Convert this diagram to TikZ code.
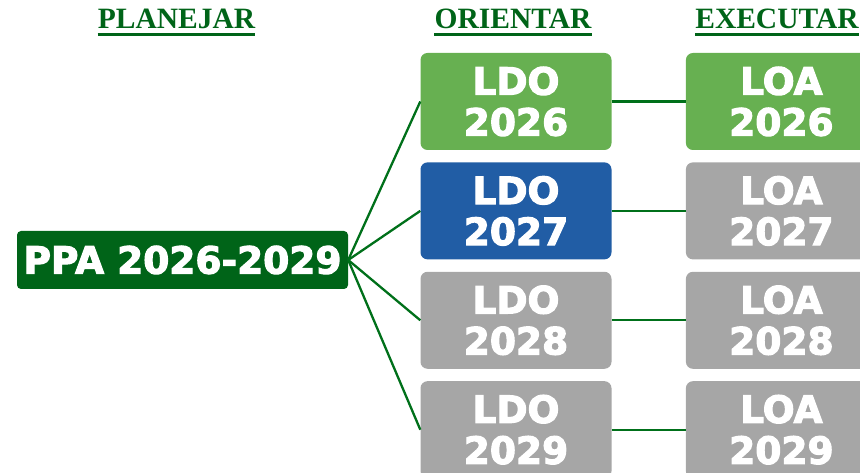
\documentclass[tikz,border=0pt]{standalone}
\usepackage{fontspec}
\newfontfamily\boxfont{DejaVu Sans Bold}[FakeBold=3]
\newfontfamily\headfont{Liberation Serif}
\usetikzlibrary{positioning}
\definecolor{darkgreen}{HTML}{006418}
\definecolor{linegreen}{HTML}{00701A}
\definecolor{lightgreen}{HTML}{67B051}
\definecolor{ldoblue}{HTML}{215DA5}
\definecolor{boxgray}{HTML}{A6A6A6}
\begin{document}
\begin{tikzpicture}[x=1pt, y=1pt,
    box/.style = {rounded corners=7pt, text=white, inner sep=0pt, align=center,
        font=\boxfont\fontsize{37.5}{41}\selectfont,
        minimum width=191pt, minimum height=97pt},
    head/.style = {text=darkgreen, inner sep=0pt, anchor=base,
        font=\headfont\bfseries\fontsize{29.5}{32}\selectfont},
    link/.style = {draw=linegreen, line width=2.3pt}]
            \clip (0,0) rectangle (860,473);
            \node[head] (plan) at (176.5,444) {PLANEJAR};
            \node[head] (orie) at (513,444) {ORIENTAR};
            \node[head] (exec) at (777,444) {EXECUTAR};
            \draw[darkgreen, line width=2.5pt] ([yshift=-5.5pt]plan.base west) -- ([yshift=-5.5pt]plan.base east);
            \draw[darkgreen, line width=2.5pt] ([yshift=-5.5pt]orie.base west) -- ([yshift=-5.5pt]orie.base east);
            \draw[darkgreen, line width=2.5pt] ([yshift=-5.5pt]exec.base west) -- ([yshift=-5.5pt]exec.base east);
            \node[box, fill=darkgreen, minimum width=331pt, minimum height=58pt, rounded corners=4pt] (ppa) at (182.5,213) {PPA 2026-2029};
            \node[box, fill=lightgreen] (ldo26) at (516,371.5) {LDO\\2026};
            \node[box, fill=ldoblue] (ldo27) [below=12pt of ldo26] {LDO\\2027};
            \node[box, fill=boxgray] (ldo28) [below=12pt of ldo27] {LDO\\2028};
            \node[box, fill=boxgray] (ldo29) [below=12pt of ldo28] {LDO\\2029};
            \node[box, fill=lightgreen] (loa26) [right=74pt of ldo26] {LOA\\2026};
            \node[box, fill=boxgray] (loa27) [right=74pt of ldo27] {LOA\\2027};
            \node[box, fill=boxgray] (loa28) [right=74pt of ldo28] {LOA\\2028};
            \node[box, fill=boxgray] (loa29) [right=74pt of ldo29] {LOA\\2029};
            \draw[link] (ppa.east) -- (ldo26.west);
            \draw[link] (ppa.east) -- (ldo27.west);
            \draw[link] (ppa.east) -- (ldo28.west);
            \draw[link] (ppa.east) -- (ldo29.west);
            \draw[link] (ldo26) -- (loa26);
            \draw[link] (ldo27) -- (loa27);
            \draw[link] (ldo28) -- (loa28);
            \draw[link] (ldo29) -- (loa29);
        \end{tikzpicture}
\end{document}
